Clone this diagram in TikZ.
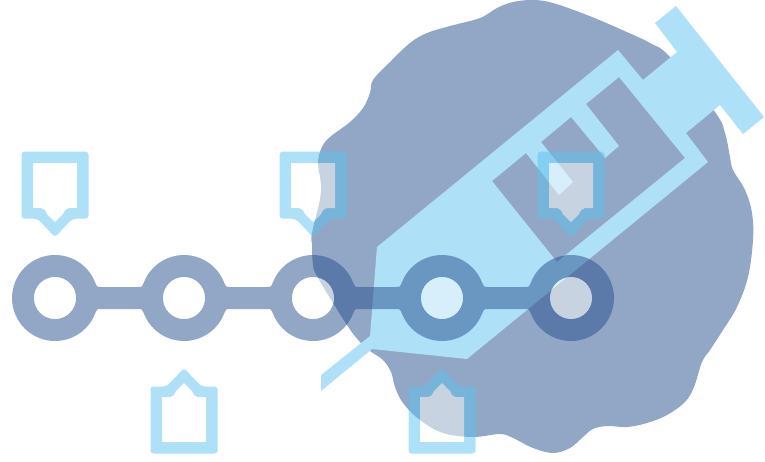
\documentclass[tikz,border=0pt]{standalone}
\usepackage{tikz}
\definecolor{cwBlob}{HTML}{92A7C6}
\definecolor{cwNavy}{HTML}{254F8D}
\definecolor{cwSky}{HTML}{AEE0F7}
\definecolor{cwCyan}{HTML}{5DC1EF}
\tikzset{
    blob/.style={fill=cwBlob},
    syringe/.style={fill=cwSky,even odd rule},
    chain/.style={fill=cwNavy,fill opacity=0.5,even odd rule},
    hole/.style={fill=white,fill opacity=0.5},
    tagring/.style={fill=cwCyan,fill opacity=0.5,even odd rule}
}
\begin{document}
\begin{tikzpicture}[x=1pt,y=1pt,yscale=-1]
    \useasboundingbox (0,0) rectangle (765,461);

    % Background blob
    \fill[blob] plot[smooth cycle,tension=0.6] coordinates {
        (533,0) (553,3) (587,15) (620,29) (650,43) (670,57) (715,112) (725,133)
        (730,157) (733,170) (745,190) (752,213) (753,240) (748,277) (737,307) (723,330)
        (710,350) (702,362) (694,387) (685,402) (667,415) (647,423) (627,427) (607,426)
        (593,429) (583,437) (570,448) (553,453) (533,448) (513,438) (500,434) (473,437)
        (443,433) (420,420) (403,403) (395,387) (391,372) (383,360) (370,351) (360,342)
        (347,325) (318,278) (313,265) (312,245) (312,233) (321,192) (318,163) (322,147)
        (330,137) (350,122) (363,108) (370,93) (373,80) (390,62) (410,43) (427,33)
        (450,26) (480,18) (497,8) (513,2)};

    % Syringe
    \fill[syringe] (377,247) -- (618,50) -- (643,80) -- (677,52) -- (655,23) -- (676,6)
        -- (764,117) -- (743,134) -- (720,105) -- (686,133) -- (708,162) -- (467,359)
        -- (372,349) -- (321,391) -- (321,375) -- (370,336) -- cycle
        (492,181) -- (526,153) -- (559,195) -- (573,182) -- (541,142) -- (571,117)
        -- (605,158) -- (619,146) -- (586,104) -- (619,77) -- (685,158) -- (557,262) -- cycle;

    % Chain of circles, one outline so that the overlaps stay even
    \fill[chain] (94.9,281.9)
        foreach \cx in {55,184,313} {
            .. controls (\cx+42,287) .. (\cx+46,287) -- (\cx+83,287)
            .. controls (\cx+87,287) .. (\cx+89.1,281.9)
            arc[start angle=-158,end angle=-22,radius=43]
        }
        .. controls (484,287) .. (488,287) -- (525,287)
        .. controls (529,287) .. (531.1,281.9)
        arc[start angle=-158,end angle=158,radius=43]
        foreach \cx in {442,313,184} {
            .. controls (\cx+87,309) .. (\cx+83,309) -- (\cx+46,309)
            .. controls (\cx+42,309) .. (\cx+39.9,314.1)
            arc[start angle=22,end angle=158,radius=43]
        }
        .. controls (142,309) .. (138,309) -- (101,309)
        .. controls (97,309) .. (94.9,314.1)
        arc[start angle=22,end angle=338,radius=43] -- cycle
        foreach \cx in {55,184,313,442,571} {(\cx,298) circle[radius=21]};
    \foreach \cx in {55,184,313,442,571}
        \fill[hole] (\cx,298) circle[radius=21];

    % Tags above and below the chain
    \foreach \tx/\ty/\ts in {55/151.7/1,313/151.7/1,571/151.7/1,184/453.5/-1,442/453.5/-1} {
        \begin{scope}[shift={(\tx,\ty)},yscale=\ts]
            \fill[tagring] [rounded corners=3] (-33.5,0) -- (33.5,0) -- (33.5,67) -- (24,67)
                .. controls (19,67) and (16,68.5) .. (13,71.6) -- (0,85.5)
                -- (-13,71.6) .. controls (-16,68.5) and (-19,67) .. (-24,67) -- (-33.5,67) -- cycle
                [sharp corners] (-22,11.5) -- (22,11.5) -- (22,56.5) -- (13.5,56.5)
                .. controls (11,56.5) and (9.5,59) .. (8,62.5) -- (0,70.5) -- (-8,62.5)
                .. controls (-9.5,59) and (-11,56.5) .. (-13.5,56.5) -- (-22,56.5) -- cycle;
            \fill[hole] (-22,11.5) -- (22,11.5) -- (22,56.5) -- (13.5,56.5)
                .. controls (11,56.5) and (9.5,59) .. (8,62.5) -- (0,70.5) -- (-8,62.5)
                .. controls (-9.5,59) and (-11,56.5) .. (-13.5,56.5) -- (-22,56.5) -- cycle;
        \end{scope}
    }
\end{tikzpicture}
\end{document}
